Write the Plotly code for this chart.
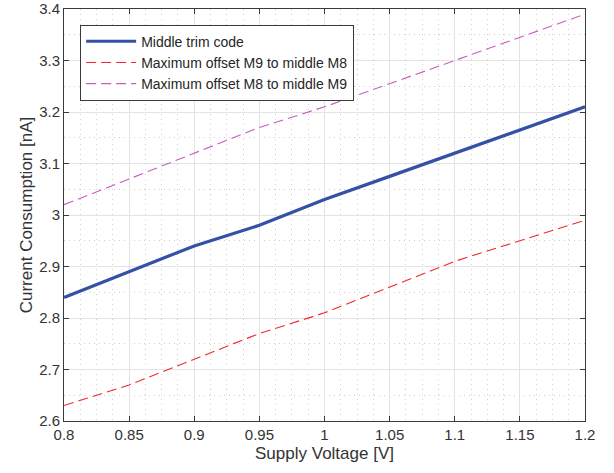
import plotly.graph_objects as go

voltage = [0.8, 0.85, 0.9, 0.95, 1.0, 1.05, 1.1, 1.15, 1.2]
middle = [2.84, 2.89, 2.94, 2.98, 3.03, 3.075, 3.12, 3.165, 3.21]
offset_m9_m8 = [2.63, 2.67, 2.72, 2.77, 2.81, 2.86, 2.91, 2.95, 2.99]
offset_m8_m9 = [3.02, 3.07, 3.12, 3.17, 3.21, 3.255, 3.30, 3.345, 3.39]
names = ["Middle trim code", "Maximum offset M9 to middle M8", "Maximum offset M8 to middle M9"]
x_ticks = [0.8, 0.85, 0.9, 0.95, 1.0, 1.05, 1.1, 1.15, 1.2]
x_tick_labels = ["0.8", "0.85", "0.9", "0.95", "1", "1.05", "1.1", "1.15", "1.2"]
y_ticks = [2.6, 2.7, 2.8, 2.9, 3.0, 3.1, 3.2, 3.3, 3.4]
y_tick_labels = ["2.6", "2.7", "2.8", "2.9", "3", "3.1", "3.2", "3.3", "3.4"]

FONT = "Liberation Sans, Arial, Helvetica, sans-serif"

fig = go.Figure()
fig.add_trace(go.Scatter(x=voltage, y=middle, mode="lines", name=names[0],
                         line=dict(color="#3551a6", width=3.2)))
fig.add_trace(go.Scatter(x=voltage, y=offset_m9_m8, mode="lines", name=names[1],
                         line=dict(color="#f0282d", width=1.1, dash="10px,5px")))
fig.add_trace(go.Scatter(x=voltage, y=offset_m8_m9, mode="lines", name=names[2],
                         line=dict(color="#c65cbd", width=1.1, dash="10px,5px")))

axis_common = dict(
    showline=True, linecolor="#3a3a3a", linewidth=1, mirror="ticks",
    ticks="inside", ticklen=5, tickcolor="#3a3a3a",
    showgrid=True, gridcolor="#e3e3e3", gridwidth=1,
    zeroline=False, ticklabeloverflow="allow", automargin=False,
    tickfont=dict(family=FONT, size=15, color="#333333"),
)

fig.update_layout(
    width=614, height=473,
    margin=dict(l=64, r=29, t=9, b=52),
    paper_bgcolor="white", plot_bgcolor="white",
    font=dict(family=FONT, color="#333333"),
    showlegend=True,
    legend=dict(x=0.031, y=0.962, xanchor="left", yanchor="top",
                bgcolor="white", bordercolor="#3a3a3a", borderwidth=1,
                font=dict(size=14, color="#262626"),
                tracegroupgap=0, itemwidth=50),
    xaxis=dict(range=[0.8, 1.2], tickvals=x_ticks, ticktext=x_tick_labels,
               title=dict(text="Supply Voltage [V]", font=dict(size=17), standoff=5),
               minor=dict(dtick=0.0125, showgrid=True, gridcolor="#cfcfcf",
                          griddash="1px,4px", gridwidth=1, ticks=""),
               **axis_common),
    yaxis=dict(range=[2.6, 3.4], tickvals=y_ticks, ticktext=y_tick_labels,
               title=dict(text="Current Consumption [nA]", font=dict(size=17), standoff=2),
               minor=dict(dtick=0.05, showgrid=True, gridcolor="#cfcfcf",
                          griddash="1px,4px", gridwidth=1, ticks=""),
               **axis_common),
)

fig.write_html("out.html")
